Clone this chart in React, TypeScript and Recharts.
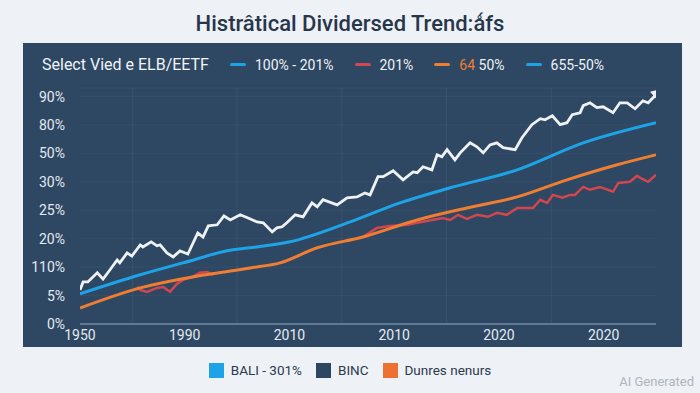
import { CartesianGrid, Line, LineChart, ReferenceLine, XAxis, YAxis } from "recharts";

const yLabels = ["0%", "5%", "110%", "20%", "25%", "30%", "50%", "80%", "90%"];
const xLabels = ["1950", "1990", "2010", "2010", "2020", "2020"];
const xTicks = [0, 20, 40, 60, 80, 100];
const gridX = [10, 30, 50, 70, 90];

const whiteSeries = [
    { t: 0, v: 1.2 }, { t: 0.6, v: 1.48 }, { t: 1.5, v: 1.48 }, { t: 3.3, v: 1.8 },
    { t: 4.4, v: 1.58 }, { t: 5.7, v: 1.9 }, { t: 7.1, v: 2.25 }, { t: 7.6, v: 2.15 },
    { t: 9.0, v: 2.5 }, { t: 9.9, v: 2.39 }, { t: 11.5, v: 2.78 }, { t: 12.0, v: 2.71 },
    { t: 13.6, v: 2.89 }, { t: 14.7, v: 2.75 }, { t: 15.3, v: 2.78 }, { t: 16.6, v: 2.5 },
    { t: 17.8, v: 2.36 }, { t: 19.1, v: 2.57 }, { t: 20.6, v: 2.46 }, { t: 22.5, v: 3.2 },
    { t: 23.5, v: 3.06 }, { t: 24.5, v: 3.45 }, { t: 26.2, v: 3.49 }, { t: 27.5, v: 3.8 },
    { t: 28.7, v: 3.66 }, { t: 30.6, v: 3.84 }, { t: 32.1, v: 3.73 }, { t: 33.8, v: 3.59 },
    { t: 35.0, v: 3.56 }, { t: 36.7, v: 3.24 }, { t: 37.6, v: 3.38 }, { t: 38.6, v: 3.42 },
    { t: 39.5, v: 3.56 }, { t: 41.1, v: 3.84 }, { t: 42.6, v: 3.77 }, { t: 44.3, v: 4.26 },
    { t: 45.3, v: 4.12 }, { t: 46.4, v: 4.37 }, { t: 49.1, v: 4.19 }, { t: 51.0, v: 4.44 },
    { t: 52.9, v: 4.47 }, { t: 54.4, v: 4.61 }, { t: 55.4, v: 4.54 }, { t: 56.9, v: 5.18 },
    { t: 57.9, v: 5.18 }, { t: 59.8, v: 5.39 }, { t: 61.7, v: 5.07 }, { t: 63.6, v: 5.35 },
    { t: 64.4, v: 5.32 }, { t: 65.5, v: 5.53 }, { t: 67.2, v: 5.42 }, { t: 68.2, v: 5.95 },
    { t: 69.1, v: 5.88 }, { t: 70.1, v: 6.13 }, { t: 71.6, v: 5.77 }, { t: 72.6, v: 6.02 },
    { t: 74.5, v: 6.37 }, { t: 75.8, v: 6.23 }, { t: 77.0, v: 6.02 }, { t: 78.3, v: 6.3 },
    { t: 79.6, v: 6.37 }, { t: 80.8, v: 6.2 }, { t: 83.1, v: 6.13 }, { t: 84.4, v: 6.55 },
    { t: 86.3, v: 7.01 }, { t: 87.9, v: 7.22 }, { t: 88.8, v: 7.18 }, { t: 90.2, v: 7.32 },
    { t: 91.7, v: 7.01 }, { t: 93.0, v: 7.08 }, { t: 94.0, v: 7.36 }, { t: 95.5, v: 7.43 },
    { t: 96.1, v: 7.68 }, { t: 97.4, v: 7.78 }, { t: 98.7, v: 7.61 }, { t: 99.9, v: 7.64 },
    { t: 101.8, v: 7.43 }, { t: 103.1, v: 7.78 }, { t: 104.5, v: 7.78 }, { t: 106.0, v: 7.57 },
    { t: 107.5, v: 7.85 }, { t: 108.5, v: 7.78 }, { t: 110, v: 8.06 },
];

const blueSeries = [
    { t: 0, v: 1.06 }, { t: 11.5, v: 1.73 }, { t: 19.7, v: 2.15 }, { t: 29.2, v: 2.61 },
    { t: 32.5, v: 2.68 }, { t: 40.1, v: 2.89 }, { t: 51.6, v: 3.59 }, { t: 61.1, v: 4.26 },
    { t: 70.7, v: 4.79 }, { t: 83.5, v: 5.42 }, { t: 96.1, v: 6.37 }, { t: 110, v: 7.08 },
];

const orangeSeries = [
    { t: 0, v: 0.56 }, { t: 11.5, v: 1.27 }, { t: 20.4, v: 1.62 }, { t: 32.5, v: 1.97 },
    { t: 38.2, v: 2.15 }, { t: 45.3, v: 2.68 }, { t: 54.0, v: 3.06 }, { t: 64.4, v: 3.66 },
    { t: 73.9, v: 4.08 }, { t: 83.5, v: 4.47 }, { t: 93.0, v: 5.07 }, { t: 102.6, v: 5.6 },
    { t: 110, v: 5.95 },
];

const redSeries = [
    { t: 10.9, v: 1.3 }, { t: 11.5, v: 1.2 }, { t: 12.8, v: 1.13 }, { t: 14.7, v: 1.27 },
    { t: 15.9, v: 1.3 }, { t: 17.2, v: 1.13 }, { t: 18.5, v: 1.41 }, { t: 19.7, v: 1.55 },
    { t: 21.4, v: 1.65 }, { t: 22.9, v: 1.8 }, { t: 24.3, v: 1.83 }, { t: 25.4, v: 1.73 },
    { t: 26, v: null }, { t: 53, v: null },
    { t: 54.0, v: 3.06 }, { t: 56.7, v: 3.38 }, { t: 59.2, v: 3.45 }, { t: 62.5, v: 3.49 },
    { t: 64.4, v: 3.56 }, { t: 69.3, v: 3.73 }, { t: 70.7, v: 3.66 }, { t: 72.2, v: 3.84 },
    { t: 73.9, v: 3.7 }, { t: 75.8, v: 3.84 }, { t: 77.9, v: 3.77 }, { t: 79.6, v: 3.91 },
    { t: 81.5, v: 3.84 }, { t: 83.5, v: 4.08 }, { t: 86.5, v: 4.08 }, { t: 87.9, v: 4.37 },
    { t: 89.2, v: 4.26 }, { t: 90.3, v: 4.54 }, { t: 92.1, v: 4.44 }, { t: 93.6, v: 4.54 },
    { t: 94.5, v: 4.54 }, { t: 96.1, v: 4.82 }, { t: 97.4, v: 4.72 }, { t: 99.3, v: 4.82 },
    { t: 101.8, v: 4.65 }, { t: 102.8, v: 4.96 }, { t: 105.0, v: 5.0 }, { t: 106.4, v: 5.21 },
    { t: 107.3, v: 5.11 }, { t: 108.5, v: 5.0 }, { t: 110, v: 5.25 },
];

const headerItems = [
    { color: "#1ea3e6", parts: [{ text: "100% - 201%", color: "#eef2f6" }] },
    { color: "#d2474f", parts: [{ text: "201%", color: "#eef2f6" }] },
    { color: "#ef7d32", parts: [{ text: "64 ", color: "#ef7d32" }, { text: "50%", color: "#eef2f6" }] },
    { color: "#1ea3e6", parts: [{ text: "655-50%", color: "#eef2f6" }] },
];

const footerItems = [
    { color: "#1ea3e6", label: "BALI - 301%" },
    { color: "#2d4762", label: "BINC" },
    { color: "#ef7131", label: "Dunres nenurs" },
];

const font = "Roboto, 'Noto Sans', sans-serif";

function ArrowDot(props: any) {
    const { cx, cy, index } = props;
    if (index !== whiteSeries.length - 1) return <g key={index} />;
    return (
        <polygon
            key={index}
            points={`${cx + 5},${cy - 6} ${cx - 6},${cy - 3} ${cx + 2},${cy + 6}`}
            fill="#eef2f5"
        />
    );
}

export default function App() {
    return (
        <div style={{ position: "absolute", left: 0, top: 0, width: 700, height: 393, background: "#eef1f6", fontFamily: font }}>
            <div style={{ position: "absolute", top: 11, left: 0, width: 700, textAlign: "center", fontSize: 22, fontWeight: 500, color: "#27364a" }}>
                Histrâtical Dividersed Trend:ǻfs
            </div>
            <div style={{ position: "absolute", left: 23, top: 43, width: 659, height: 304, background: "#2e4763" }}>
                <LineChart width={659} height={304} margin={{ top: 45, right: 26, bottom: 3, left: 0 }}>
                    <CartesianGrid vertical={false} stroke="rgba(255,255,255,0.04)" />
                    {gridX.map((x) => (
                        <ReferenceLine key={x} x={x} stroke="rgba(255,255,255,0.06)" />
                    ))}
                    <XAxis
                        dataKey="t"
                        type="number"
                        domain={[0, 110]}
                        ticks={xTicks}
                        tickFormatter={(v: number) => xLabels[xTicks.indexOf(v)]}
                        height={20}
                        tickSize={0}
                        tickMargin={6}
                        axisLine={{ stroke: "#5f7a95", strokeWidth: 2 }}
                        tick={{ fill: "#e4eaf0", fontSize: 14 }}
                        allowDataOverflow
                    />
                    <YAxis
                        type="number"
                        domain={[0, 8.3]}
                        ticks={[0, 1, 2, 3, 4, 5, 6, 7, 8]}
                        tickFormatter={(v: number) => yLabels[v]}
                        width={57}
                        tickSize={0}
                        tickMargin={15}
                        axisLine={false}
                        tick={{ fill: "#e4eaf0", fontSize: 14 }}
                        allowDataOverflow
                    />
                    <Line data={redSeries} dataKey="v" type="linear" stroke="#d2474f" strokeWidth={2.5} dot={false} isAnimationActive={false} />
                    <Line data={orangeSeries} dataKey="v" type="monotone" stroke="#ef7d32" strokeWidth={3} dot={false} isAnimationActive={false} />
                    <Line data={blueSeries} dataKey="v" type="monotone" stroke="#1ea3e6" strokeWidth={3} dot={false} isAnimationActive={false} />
                    <Line data={whiteSeries} dataKey="v" type="linear" stroke="#eef2f5" strokeWidth={2.8} dot={ArrowDot} isAnimationActive={false} />
                </LineChart>
                <div style={{ position: "absolute", left: 19, top: 12, display: "flex", alignItems: "center", color: "#f0f4f8", fontSize: 16, whiteSpace: "nowrap" }}>
                    <span style={{ marginRight: 21 }}>Select Vied e ELB/EETF</span>
                    {headerItems.map((item, i) => (
                        <span key={i} style={{ display: "flex", alignItems: "center", marginRight: 21, fontSize: 14 }}>
                            <span style={{ display: "inline-block", width: 16, height: 3, borderRadius: 2, background: item.color, marginRight: 9 }} />
                            {item.parts.map((p, j) => (
                                <span key={j} style={{ color: p.color, whiteSpace: "pre" }}>{p.text}</span>
                            ))}
                        </span>
                    ))}
                </div>
            </div>
            <div style={{ position: "absolute", top: 362, left: 0, width: 700, display: "flex", justifyContent: "center", alignItems: "center", fontSize: 13.5, color: "#2b3a4e" }}>
                {footerItems.map((item) => (
                    <span key={item.label} style={{ display: "flex", alignItems: "center", margin: "0 7px" }}>
                        <span style={{ display: "inline-block", width: 15, height: 15, background: item.color, marginRight: 7 }} />
                        {item.label}
                    </span>
                ))}
            </div>
            <div style={{ position: "absolute", right: 6, top: 374, fontSize: 13, color: "#aeb5be" }}>AI Generated</div>
        </div>
    );
}
